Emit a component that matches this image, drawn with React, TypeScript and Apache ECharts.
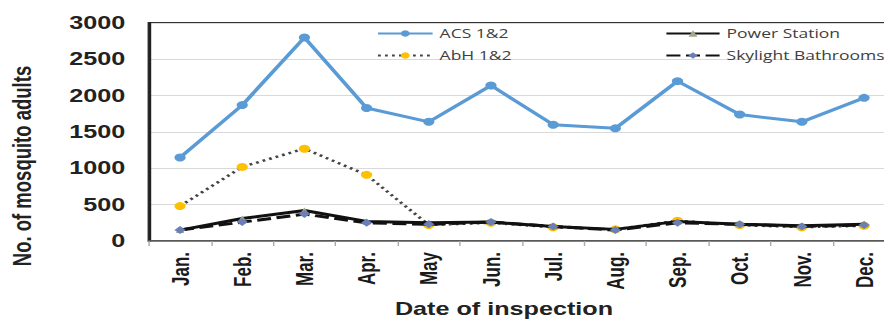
import React, { useEffect, useRef } from "react";
import * as echarts from "echarts";

const months = ["Jan.", "Feb.", "Mar.", "Apr.", "May", "Jun.", "Jul.", "Aug.", "Sep.", "Oct.", "Nov.", "Dec."];
const acs = [1150, 1870, 2800, 1830, 1640, 2140, 1600, 1550, 2200, 1740, 1640, 1970];
const abh = [480, 1020, 1270, 910, 220, 250, 190, 160, 280, 220, 190, 210];
const powerStation = [150, 310, 420, 270, 250, 260, 200, 160, 270, 230, 210, 230];
const skylight = [150, 260, 370, 250, 230, 260, 200, 150, 250, 230, 200, 220];
const yTicks = [0, 500, 1000, 1500, 2000, 2500, 3000];

// The reference image is horizontally stretched; draw narrow and stretch with CSS.
const STRETCH = 1.4;

export default function App() {
  const ref = useRef<HTMLDivElement>(null);
  useEffect(() => {
    const chart = echarts.init(ref.current!, null, { renderer: "svg" });
    const font = "Liberation Sans, Arial, sans-serif";
    const legendText = { fontFamily: "Open Sans, sans-serif", fontSize: 12.5, color: "#404040" };
    chart.setOption({
      animation: false,
      backgroundColor: "#ffffff",
      grid: {
        left: 106.4,
        top: 23,
        width: 533,
        height: 218,
        show: true,
        borderColor: "#333",
        borderWidth: 2,
      },
      legend: [
        {
          data: ["ACS 1&2", "AbH 1&2"],
          orient: "vertical",
          left: 264,
          top: 22,
          itemWidth: 39,
          itemHeight: 8,
          itemGap: 9,
          textStyle: legendText,
        },
        {
          data: ["Power Station", "Skylight Bathrooms"],
          orient: "vertical",
          left: 470,
          top: 22,
          itemWidth: 38,
          itemHeight: 8,
          itemGap: 9,
          textStyle: legendText,
        },
      ],
      xAxis: {
        type: "category",
        data: months,
        boundaryGap: true,
        axisLine: { lineStyle: { color: "#666", width: 1.5 } },
        axisTick: { show: true, length: 5, lineStyle: { color: "#aaa" } },
        axisLabel: {
          rotate: 90,
          margin: 11,
          fontFamily: font,
          fontWeight: "bold",
          fontSize: 17,
          color: "#1a1a1a",
        },
        splitLine: { show: false },
      },
      yAxis: {
        type: "value",
        min: 0,
        max: 3000,
        interval: 500,
        axisLine: { show: true, lineStyle: { color: "#222", width: 2 } },
        axisTick: { show: false },
        axisLabel: {
          margin: 17,
          fontFamily: font,
          fontWeight: "bold",
          fontSize: 18,
          color: "#222",
          formatter: (v: number) => (yTicks.includes(v) ? String(v) : ""),
        },
        splitLine: { show: true, lineStyle: { color: "#d9d9d9", width: 1 } },
      },
      graphic: [
        {
          type: "text",
          x: 16,
          y: 166,
          rotation: Math.PI / 2,
          style: {
            text: "No. of mosquito adults",
            align: "center",
            verticalAlign: "middle",
            fontFamily: font,
            fontWeight: "bold",
            fontSize: 18.5,
            fill: "#222",
          },
        },
        {
          type: "text",
          x: 360,
          y: 300,
          style: {
            text: "Date of inspection",
            align: "center",
            verticalAlign: "top",
            fontFamily: font,
            fontWeight: "bold",
            fontSize: 18,
            fill: "#222",
          },
        },
      ],
      series: [
        {
          name: "Power Station",
          type: "line",
          data: powerStation,
          symbol: "triangle",
          symbolSize: 6,
          itemStyle: { color: "#a5a58a" },
          lineStyle: { color: "#111", width: 3 },
          z: 3,
        },
        {
          name: "Skylight Bathrooms",
          type: "line",
          data: skylight,
          symbol: "diamond",
          symbolSize: 8,
          itemStyle: { color: "#6a7fb8" },
          lineStyle: { color: "#111", width: 3, type: [10, 4] },
          z: 4,
        },
        {
          name: "AbH 1&2",
          type: "line",
          data: abh,
          symbol: "circle",
          symbolSize: 8,
          itemStyle: { color: "#ffc000" },
          lineStyle: { color: "#444", width: 2.5, type: [2, 3] },
          z: 2,
        },
        {
          name: "ACS 1&2",
          type: "line",
          data: acs,
          symbol: "circle",
          symbolSize: 8,
          itemStyle: { color: "#5b9bd5" },
          lineStyle: { color: "#5b9bd5", width: 3 },
          z: 5,
        },
      ],
    });
    return () => chart.dispose();
  }, []);
  return (
    <div
      style={{
        position: "fixed",
        left: 0,
        top: 0,
        width: 884,
        height: 321,
        overflow: "hidden",
        background: "#fff",
      }}
    >
      <div
        ref={ref}
        style={{
          width: 650,
          height: 321,
          transform: `scaleX(${STRETCH})`,
          transformOrigin: "0 0",
        }}
      />
    </div>
  );
}
